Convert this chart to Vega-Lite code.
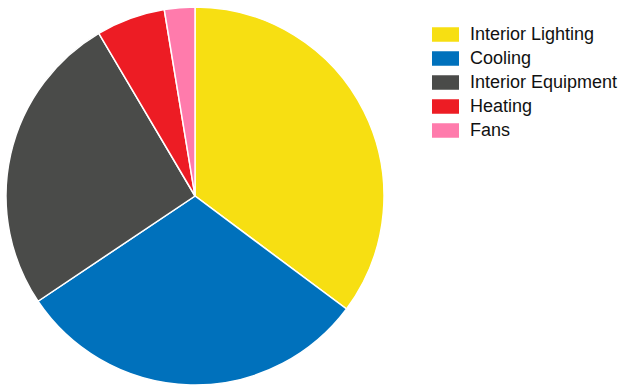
{
  "$schema": "https://vega.github.io/schema/vega-lite/v6.json",
  "width": 390,
  "height": 392,
  "padding": {"left": 0, "top": 0, "right": 231, "bottom": 0},
  "autosize": {"type": "none"},
  "background": "white",
  "view": {"stroke": null},
  "data": {
    "values": [
      {"end_use": "Interior Lighting", "share": 35.2, "o": 1},
      {"end_use": "Cooling", "share": 30.4, "o": 2},
      {"end_use": "Interior Equipment", "share": 25.9, "o": 3},
      {"end_use": "Heating", "share": 5.9, "o": 4},
      {"end_use": "Fans", "share": 2.6, "o": 5}
    ]
  },
  "mark": {"type": "arc", "radius": 189, "stroke": "white", "strokeWidth": 1.5},
  "encoding": {
    "theta": {"field": "share", "type": "quantitative", "stack": true},
    "order": {"field": "o", "type": "quantitative"},
    "color": {
      "field": "end_use",
      "type": "nominal",
      "sort": ["Interior Lighting", "Cooling", "Interior Equipment", "Heating", "Fans"],
      "scale": {
        "domain": ["Interior Lighting", "Cooling", "Interior Equipment", "Heating", "Fans"],
        "range": ["#F7DF12", "#0071BC", "#4A4B49", "#ED1C24", "#FF7BAC"]
      },
      "legend": {
        "title": null,
        "orient": "none",
        "legendX": 432,
        "legendY": 21,
        "padding": 0,
        "symbolType": "M-1,-0.537H1V0.537H-1Z",
        "symbolSize": 729,
        "symbolStrokeWidth": 0,
        "symbolOpacity": 1,
        "labelFont": "Liberation Sans",
        "labelFontSize": 18,
        "labelColor": "#111111",
        "labelOffset": 11,
        "rowPadding": 1
      }
    }
  }
}
